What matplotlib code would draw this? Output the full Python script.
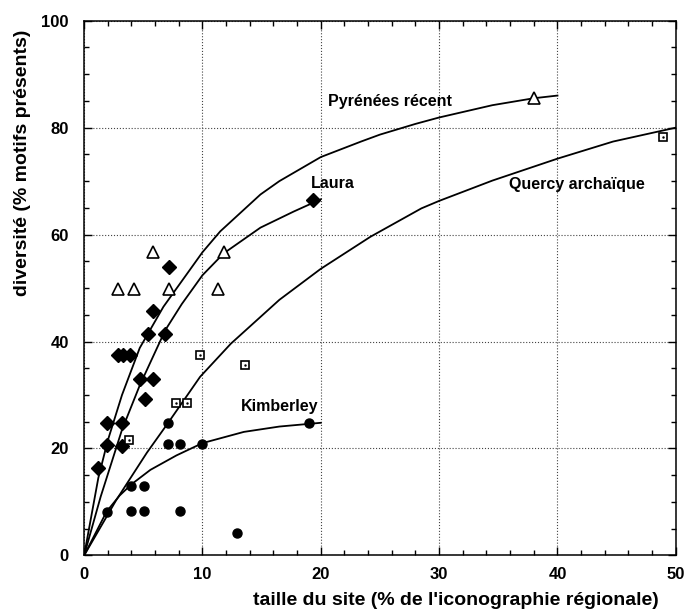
import matplotlib
matplotlib.use('Agg')
import matplotlib.pyplot as plt
from matplotlib.ticker import MultipleLocator

plt.rcParams['font.family'] = ['Liberation Sans', 'DejaVu Sans']
plt.rcParams['font.weight'] = 'bold'

# fitted curves
pyr_x = [0, 1.2, 2.0, 3.2, 4.7, 6.7, 10, 11.5, 14.9, 16.5, 20, 23.4, 25, 28, 30, 34.5, 38, 40]
pyr_y = [0, 14.5, 21.5, 30.0, 38.8, 46.5, 56.7, 60.6, 67.5, 70.0, 74.5, 77.4, 78.7, 80.7, 81.9, 84.2, 85.5, 86.0]

laura_x = [0, 1.4, 3.2, 4.7, 6.85, 8.25, 10, 11.8, 14.9, 17.7, 20]
laura_y = [0, 11.0, 23.5, 31.8, 42.1, 47.0, 52.4, 56.5, 61.3, 64.3, 66.6]

quercy_x = [0, 2.7, 5.3, 7.07, 9.8, 12.4, 16.5, 20, 24.2, 28.5, 30, 34.5, 40, 44.7, 50]
quercy_y = [0, 10.3, 19.2, 24.7, 33.4, 39.6, 47.8, 53.6, 59.6, 64.9, 66.3, 70.1, 74.2, 77.4, 80.0]

kimb_x = [0, 1.9, 3.0, 4.0, 5.6, 7.8, 10, 13.5, 16.5, 19, 20]
kimb_y = [0, 8.2, 11.2, 13.3, 16.0, 18.7, 21.0, 23.1, 24.1, 24.6, 24.8]

# sites
circ_x = [1.9, 4.0, 5.1, 4.0, 5.1, 8.1, 7.07, 7.07, 8.1, 10.0, 12.9, 19.0]
circ_y = [8.2, 12.9, 12.9, 8.3, 8.3, 8.3, 24.8, 20.9, 20.9, 20.9, 4.15, 24.8]

diam_x = [1.2, 1.9, 1.9, 3.2, 3.2, 5.15, 4.7, 5.8, 2.9, 3.3, 3.9, 5.4, 6.85, 5.8, 7.2, 19.3]
diam_y = [16.4, 20.7, 24.8, 24.8, 20.5, 29.3, 33.0, 33.0, 37.5, 37.5, 37.5, 41.5, 41.5, 45.7, 54.0, 66.5]

tri_x = [2.84, 4.25, 7.15, 11.3, 5.8, 11.8, 38.0]
tri_y = [49.8, 49.8, 49.8, 49.8, 56.8, 56.8, 85.6]

sq_x = [3.8, 7.75, 8.7, 9.8, 13.6, 48.9]
sq_y = [21.5, 28.5, 28.5, 37.5, 35.6, 78.3]

labels = ['Pyrénées récent', 'Laura', 'Quercy archaïque', 'Kimberley']
label_x = [25.85, 21.0, 41.6, 16.5]
label_y = [84.8, 69.6, 69.4, 27.8]

fig = plt.figure(figsize=(6.84, 6.09), dpi=100)
ax = fig.add_axes([0.123, 0.088, 0.865, 0.878])

for cx, cy in [(pyr_x, pyr_y), (laura_x, laura_y), (quercy_x, quercy_y), (kimb_x, kimb_y)]:
    ax.plot(cx, cy, color='black', lw=1.3, zorder=3)

ax.plot(circ_x, circ_y, 'o', color='black', ms=6.5, zorder=4)
ax.plot(diam_x, diam_y, 'D', color='black', ms=6.8, zorder=4)
ax.plot(tri_x, tri_y, '^', mfc='white', mec='black', mew=1.2, ms=8, zorder=4)
ax.plot(sq_x, sq_y, 's', mfc='white', mec='black', mew=1.2, ms=6, zorder=4)
ax.plot(sq_x, sq_y, '.', color='black', ms=1.5, zorder=5)

for t, lx, ly in zip(labels, label_x, label_y):
    ax.text(lx, ly, t, ha='center', va='center', fontsize=11.5, fontweight='bold')

ax.set_xlim(0, 50)
ax.set_ylim(0, 100)
ax.xaxis.set_major_locator(MultipleLocator(10))
ax.xaxis.set_minor_locator(MultipleLocator(2))
ax.yaxis.set_major_locator(MultipleLocator(20))
ax.yaxis.set_minor_locator(MultipleLocator(5))
ax.tick_params(which='both', direction='in', top=True, right=True, width=1)
ax.tick_params(which='major', length=6, labelsize=12)
ax.tick_params(axis='x', which='major', pad=8)
ax.tick_params(axis='y', which='major', pad=11)
ax.tick_params(which='minor', length=3.5)
for s in ax.spines.values():
    s.set_linewidth(1.1)
ax.grid(True, which='major', linestyle=':', color='#444444', lw=0.8)

ax.set_xlabel("taille du site (% de l'iconographie régionale)", fontsize=14, fontweight='bold')
ax.set_ylabel('diversité (% motifs présents)', fontsize=14, fontweight='bold')
ax.xaxis.set_label_coords(0.628, -0.085)
ax.xaxis.label.set_va('center')
ax.yaxis.set_label_coords(-0.104, 0.734)
ax.yaxis.label.set_va('center')

fig.savefig('out.png', dpi=100)
